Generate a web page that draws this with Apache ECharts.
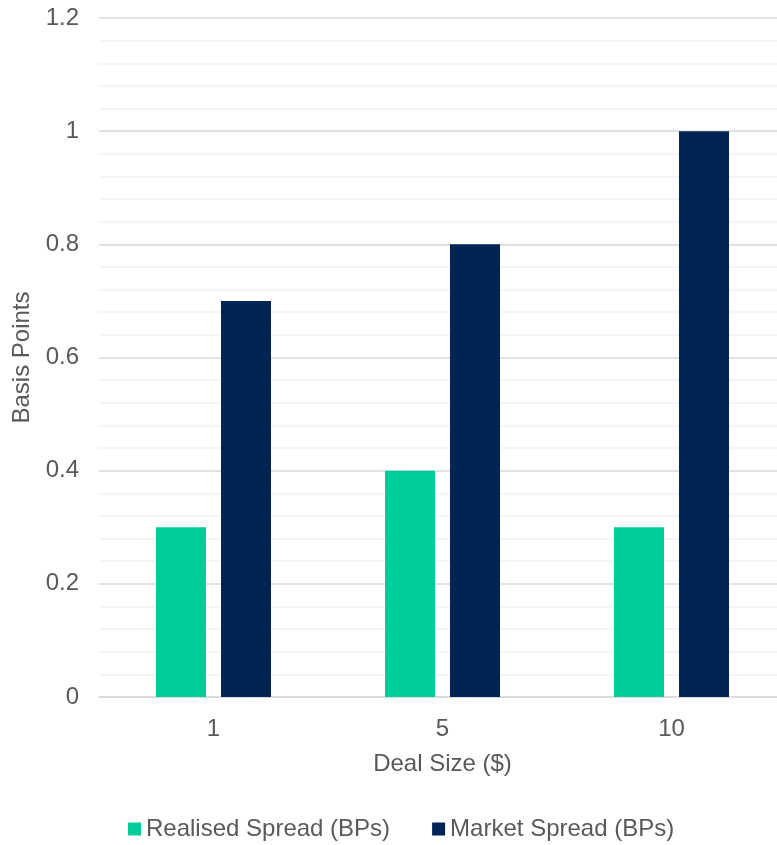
<!DOCTYPE html>
<html><head><meta charset="utf-8">
<script src="https://cdn.jsdelivr.net/npm/echarts@6/dist/echarts.min.js"></script>
<style>html,body{margin:0;padding:0;background:#fff;overflow:hidden;width:777px;height:845px}#c{width:786px;height:845px}</style>
</head><body><div id="c"></div>
<script>
const categories = ['1', '5', '10'];
const realisedSpread = [0.3, 0.4, 0.3];
const marketSpread = [0.7, 0.8, 1.0];
const seriesNames = ['Realised Spread (BPs)', 'Market Spread (BPs)'];
const font = 'Liberation Sans, Arial, sans-serif';
const chart = echarts.init(document.getElementById('c'));
chart.setOption({
  animation: false,
  textStyle: { fontFamily: font },
  grid: { left: 99, right: 0, top: 18, bottom: 148, containLabel: false },
  legend: {
    top: 812, left: 123, itemWidth: 13, itemHeight: 13, itemGap: 42,
    icon: 'rect',
    textStyle: { color: '#595959', fontSize: 24, fontFamily: font },
    data: seriesNames
  },
  xAxis: {
    type: 'category', data: categories,
    name: 'Deal Size ($)', nameLocation: 'middle', nameGap: 55,
    nameTextStyle: { color: '#595959', fontSize: 24 },
    axisLine: { lineStyle: { color: '#d9d9d9', width: 1.5 } },
    axisTick: { show: false },
    axisLabel: { color: '#595959', fontSize: 24, margin: 20 }
  },
  yAxis: {
    type: 'value', min: 0, max: 1.2, interval: 0.2,
    name: 'Basis Points', nameLocation: 'middle', nameGap: 60,
    nameTextStyle: { color: '#595959', fontSize: 24 },
    axisLine: { show: false }, axisTick: { show: false },
    axisLabel: { color: '#595959', fontSize: 24, margin: 20, formatter: v => String(Math.round(v*10)/10) },
    splitLine: { lineStyle: { color: '#d9d9d9', width: 1.5 } },
    minorTick: { show: false, splitNumber: 5 },
    minorSplitLine: { show: true, lineStyle: { color: '#f2f2f2', width: 1.5 } }
  },
  series: [
    { name: seriesNames[0], type: 'bar', data: realisedSpread, barWidth: 50, barGap: '30%', itemStyle: { color: '#00cc99' } },
    { name: seriesNames[1], type: 'bar', data: marketSpread, barWidth: 50, itemStyle: { color: '#002554' } }
  ]
});
</script></body></html>
